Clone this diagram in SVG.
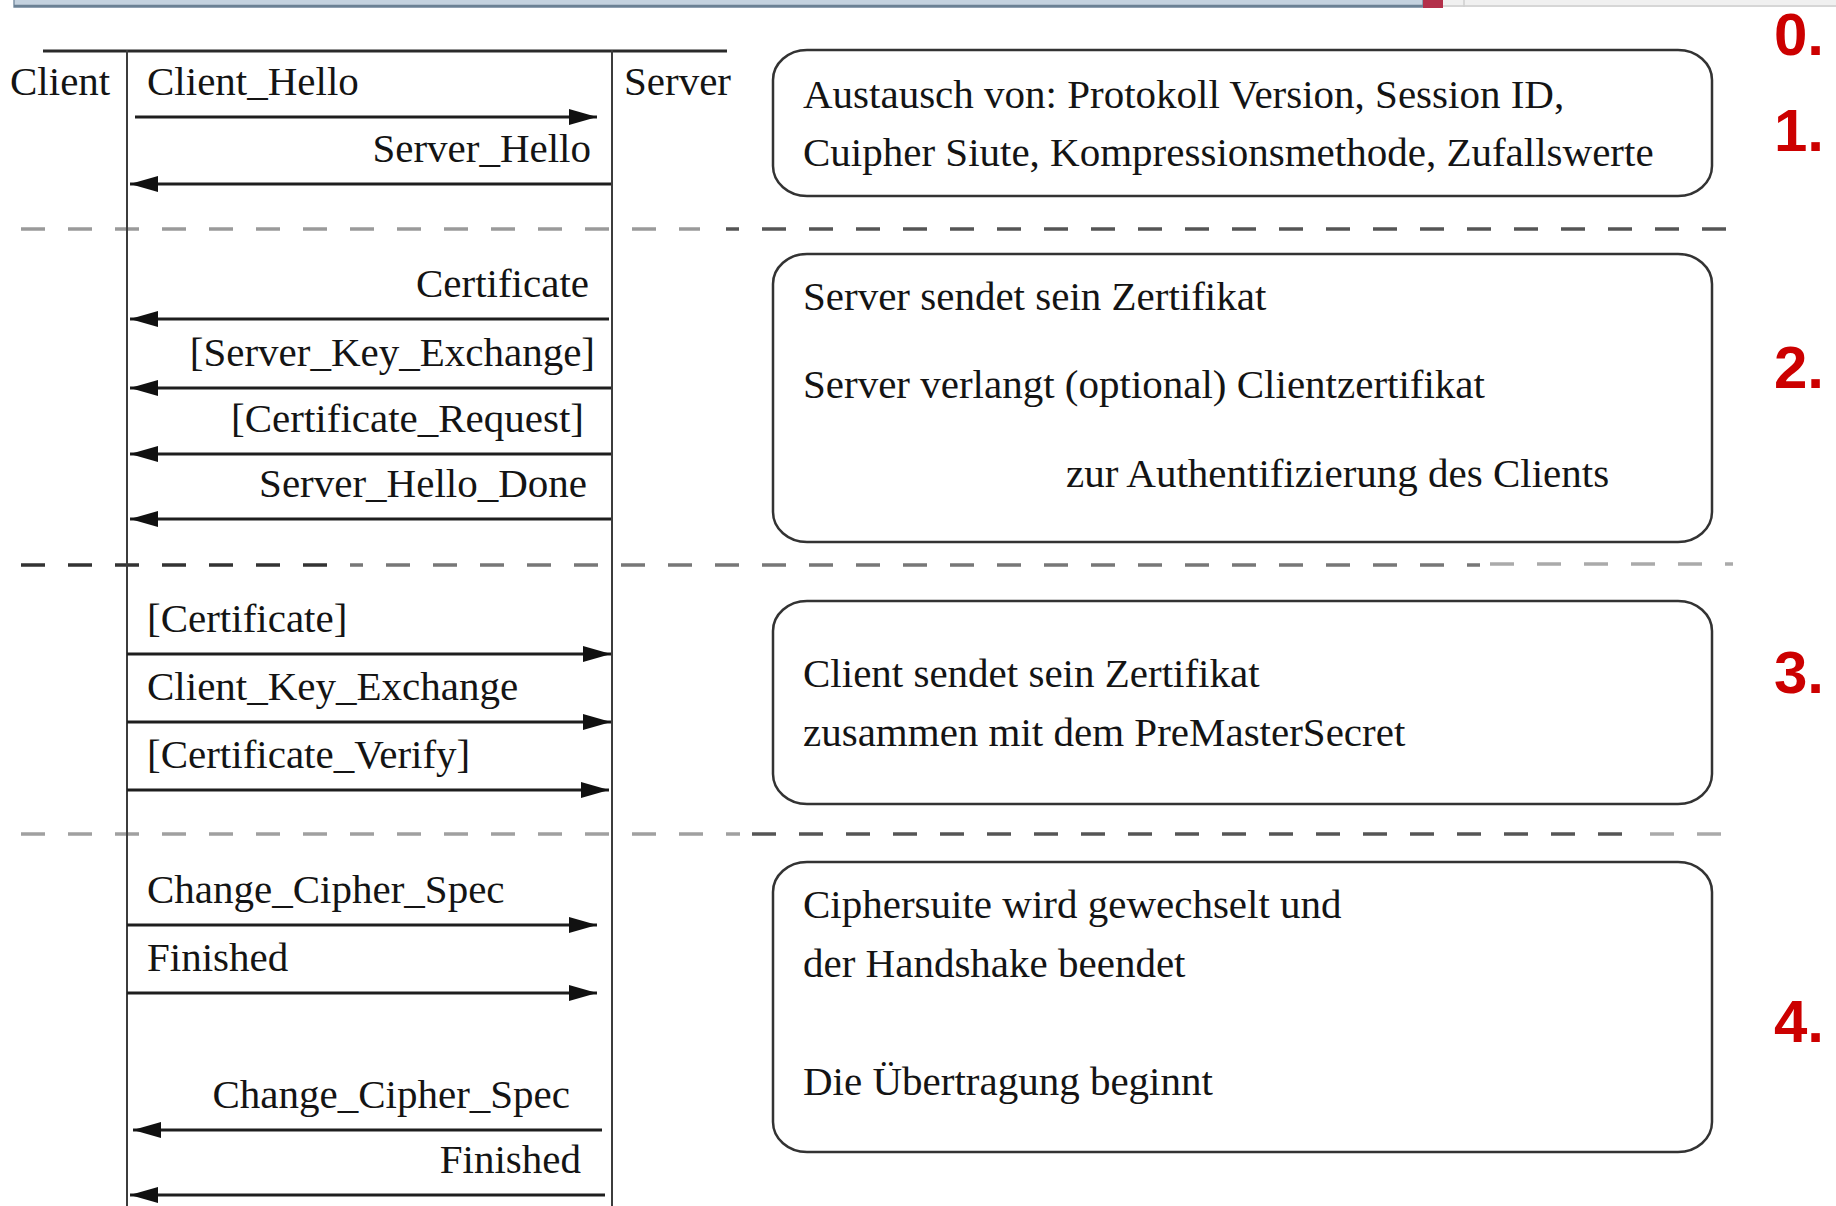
<svg xmlns="http://www.w3.org/2000/svg" width="1836" height="1206" viewBox="0 0 1836 1206">
<style>
  .t { font-family: "Liberation Serif", "Times New Roman", serif; font-size: 41px; fill: #141414; }
  .r { text-anchor: end; }
  .num { font-family: "Liberation Sans", Arial, sans-serif; font-weight: bold; font-size: 60px; fill: #cc0000; }
  .msg { stroke: #1e1e1e; stroke-width: 3; fill: none; }
  .life { stroke: #3c3c3c; stroke-width: 2; }
  .box { fill: #ffffff; stroke: #333; stroke-width: 2.5; }
  .dash { stroke-width: 3.5; stroke-dasharray: 24 23; fill: none; }
</style>
<defs>
  <marker id="ah" viewBox="0 0 28 16" refX="28" refY="8" markerWidth="28" markerHeight="16" markerUnits="userSpaceOnUse" orient="auto">
    <path d="M0,0 L28,8 L0,16 Z" fill="#111"/>
  </marker>
</defs>
<rect width="1836" height="1206" fill="#ffffff"/>
<g id="window-bar">
  <rect x="14" y="-2" width="1409" height="9" fill="#c4d2df" stroke="#7d93a6" stroke-width="1.5"/>
  <line x1="14" y1="6" x2="1423" y2="6" stroke="#6b8194" stroke-width="2.5"/>
  <rect x="1423" y="0" width="20" height="8" fill="#b3304a"/>
  <rect x="1443" y="0" width="393" height="7" fill="#f0f0f0"/>
  <line x1="1443" y1="6" x2="1836" y2="6" stroke="#d6d6d6" stroke-width="2"/>
  <line x1="1464" y1="0" x2="1464" y2="7" stroke="#cfcfcf" stroke-width="1.5"/>
</g>
<g id="separators">
  <line class="dash" x1="21" y1="229" x2="700" y2="229" stroke="#9a9a9a"/>
  <line class="dash" x1="726" y1="229" x2="1733" y2="229" stroke="#555" stroke-dashoffset="11"/>
  <line class="dash" x1="21" y1="565" x2="330" y2="565" stroke="#333"/>
  <line class="dash" x1="350" y1="565" x2="1480" y2="565" stroke="#777" stroke-dashoffset="11"/>
  <line class="dash" x1="1490" y1="564" x2="1733" y2="564" stroke="#aaa"/>
  <line class="dash" x1="21" y1="834" x2="740" y2="834" stroke="#a0a0a0"/>
  <line class="dash" x1="752" y1="834" x2="1640" y2="834" stroke="#555"/>
  <line class="dash" x1="1650" y1="834" x2="1733" y2="834" stroke="#aaa"/>
</g>
<g id="lifelines">
  <line x1="43" y1="51" x2="727" y2="51" stroke="#2a2a2a" stroke-width="3"/>
  <line class="life" x1="127" y1="50" x2="127" y2="1206"/>
  <line class="life" x1="612" y1="50" x2="612" y2="1206"/>
</g>
<g id="client">
  <text class="t" x="10" y="95">Client</text>
</g>
<g id="server">
  <text class="t" x="624" y="95">Server</text>
</g>
<g id="connectors">
  <line class="msg" x1="135" y1="117" x2="597" y2="117" marker-end="url(#ah)"/>
  <line class="msg" x1="611" y1="184" x2="130" y2="184" marker-end="url(#ah)"/>
  <line class="msg" x1="609" y1="319" x2="130" y2="319" marker-end="url(#ah)"/>
  <line class="msg" x1="611" y1="388" x2="130" y2="388" marker-end="url(#ah)"/>
  <line class="msg" x1="611" y1="454" x2="130" y2="454" marker-end="url(#ah)"/>
  <line class="msg" x1="611" y1="519" x2="130" y2="519" marker-end="url(#ah)" stroke="#000" stroke-width="4"/>
  <line class="msg" x1="127" y1="654" x2="611" y2="654" marker-end="url(#ah)"/>
  <line class="msg" x1="127" y1="722" x2="611" y2="722" marker-end="url(#ah)"/>
  <line class="msg" x1="127" y1="790" x2="609" y2="790" marker-end="url(#ah)"/>
  <line class="msg" x1="127" y1="925" x2="597" y2="925" marker-end="url(#ah)"/>
  <line class="msg" x1="127" y1="993" x2="597" y2="993" marker-end="url(#ah)"/>
  <line class="msg" x1="602" y1="1130" x2="133" y2="1130" marker-end="url(#ah)"/>
  <line class="msg" x1="605" y1="1195" x2="130" y2="1195" marker-end="url(#ah)"/>
</g>
<g id="messages">
  <text class="t" x="147" y="95">Client_Hello</text>
  <text class="t r" x="591" y="162">Server_Hello</text>
  <text class="t r" x="589" y="297">Certificate</text>
  <text class="t r" x="595" y="366">[Server_Key_Exchange]</text>
  <text class="t r" x="584" y="432">[Certificate_Request]</text>
  <text class="t r" x="587" y="497">Server_Hello_Done</text>
  <text class="t" x="147" y="632">[Certificate]</text>
  <text class="t" x="147" y="700">Client_Key_Exchange</text>
  <text class="t" x="147" y="768">[Certificate_Verify]</text>
  <text class="t" x="147" y="903">Change_Cipher_Spec</text>
  <text class="t" x="147" y="971">Finished</text>
  <text class="t r" x="570" y="1108">Change_Cipher_Spec</text>
  <text class="t r" x="581" y="1173">Finished</text>
</g>
<g id="box1">
  <rect class="box" x="773" y="50" width="939" height="146" rx="34" ry="30"/>
  <text class="t" x="803" y="108">Austausch von: Protokoll Version, Session ID,</text>
  <text class="t" x="803" y="166">Cuipher Siute, Kompressionsmethode, Zufallswerte</text>
</g>
<g id="box2">
  <rect class="box" x="773" y="254" width="939" height="288" rx="34" ry="30"/>
  <text class="t" x="803" y="310">Server sendet sein Zertifikat</text>
  <text class="t" x="803" y="398">Server verlangt (optional) Clientzertifikat</text>
  <text class="t" x="1066" y="487">zur Authentifizierung des Clients</text>
</g>
<g id="box3">
  <rect class="box" x="773" y="601" width="939" height="203" rx="34" ry="30"/>
  <text class="t" x="803" y="687">Client sendet sein Zertifikat</text>
  <text class="t" x="803" y="746">zusammen mit dem PreMasterSecret</text>
</g>
<g id="box4">
  <rect class="box" x="773" y="862" width="939" height="290" rx="34" ry="30"/>
  <text class="t" x="803" y="918">Ciphersuite wird gewechselt und</text>
  <text class="t" x="803" y="977">der Handshake beendet</text>
  <text class="t" x="803" y="1095">Die Übertragung beginnt</text>
</g>
<g id="steps">
  <text class="num" x="1774" y="55">0.</text>
  <text class="num" x="1774" y="151">1.</text>
  <text class="num" x="1774" y="388">2.</text>
  <text class="num" x="1774" y="693">3.</text>
  <text class="num" x="1774" y="1042">4.</text>
</g>
</svg>
